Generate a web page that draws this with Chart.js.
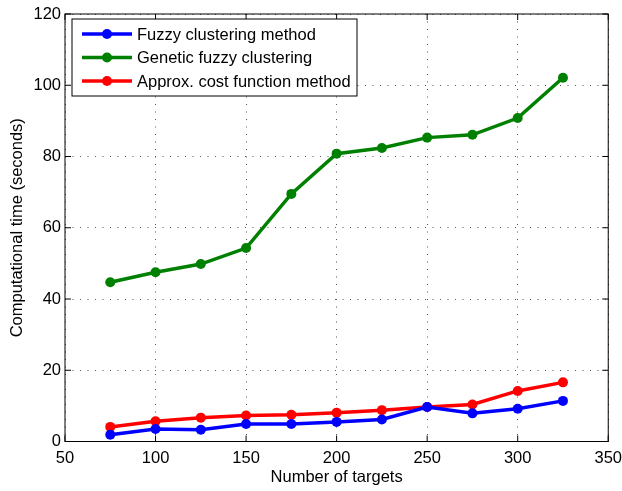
<!DOCTYPE html>
<html>
<head>
<meta charset="utf-8">
<script src="https://cdn.jsdelivr.net/npm/chart.js@4"></script>
<style>
  html, body { margin: 0; padding: 0; background: #fff; }
  #wrap { width: 622px; height: 491px; }
</style>
</head>
<body>
<div id="wrap"><canvas id="c" width="622" height="491"></canvas></div>
<script>
'use strict';

// Datos
const targets  = [75, 100, 125, 150, 175, 200, 225, 250, 275, 300, 325];
const fuzzy    = [1.9, 3.5, 3.3, 4.9, 4.9, 5.5, 6.2, 9.7, 7.9, 9.2, 11.4];
const genetic  = [44.7, 47.5, 49.8, 54.3, 69.5, 80.8, 82.4, 85.3, 86.1, 90.8, 102.1];
const approx   = [4.1, 5.7, 6.7, 7.3, 7.5, 8.1, 8.8, 9.7, 10.4, 14.2, 16.6];
const seriesNames = ['Fuzzy clustering method', 'Genetic fuzzy clustering', 'Approx. cost function method'];
const xTitle = 'Number of targets';
const yTitle = 'Computational time (seconds)';

const FONT = '"Liberation Sans", Arial, Helvetica, sans-serif';
const FS = 16.5;
Chart.defaults.font.family = FONT;
Chart.defaults.color = '#000';

function toXY(values) {
  return values.map((v, i) => ({ x: targets[i], y: v }));
}

function serie(label, values, color) {
  return {
    label,
    data: toXY(values),
    borderColor: color,
    backgroundColor: color,
    borderWidth: 3.5,
    pointRadius: 5,
    pointBorderWidth: 0,
    pointBackgroundColor: color,
    tension: 0,
  };
}

// ── Caja, marcas interiores y leyenda estilo MATLAB ──────────────────────────
const matlabBox = {
  id: 'matlabBox',
  afterDraw(chart) {
    const { ctx, chartArea: a, scales } = chart;
    const tl = 6;
    ctx.save();
    ctx.strokeStyle = '#000';
    ctx.lineWidth = 1;
    ctx.setLineDash([]);
    ctx.strokeRect(a.left, a.top, a.right - a.left, a.bottom - a.top);
    ctx.beginPath();
    scales.x.ticks.forEach(t => {
      const px = scales.x.getPixelForValue(t.value);
      ctx.moveTo(px, a.bottom); ctx.lineTo(px, a.bottom - tl);
      ctx.moveTo(px, a.top);    ctx.lineTo(px, a.top + tl);
    });
    scales.y.ticks.forEach(t => {
      const py = scales.y.getPixelForValue(t.value);
      ctx.moveTo(a.left, py);  ctx.lineTo(a.left + tl, py);
      ctx.moveTo(a.right, py); ctx.lineTo(a.right - tl, py);
    });
    ctx.stroke();

    // Leyenda
    const bx = 72, by = 19, bw = 285, bh = 77;
    ctx.fillStyle = '#fff';
    ctx.fillRect(bx, by, bw, bh);
    ctx.strokeRect(bx, by, bw, bh);
    ctx.font = FS + 'px ' + FONT;
    ctx.textAlign = 'left';
    ctx.textBaseline = 'middle';
    chart.data.datasets.forEach((ds, i) => {
      const y = 34 + i * 23.5;
      ctx.strokeStyle = ds.borderColor;
      ctx.lineWidth = 3.5;
      ctx.beginPath(); ctx.moveTo(82, y); ctx.lineTo(132, y); ctx.stroke();
      ctx.fillStyle = ds.borderColor;
      ctx.beginPath(); ctx.arc(107, y, 5, 0, Math.PI * 2); ctx.fill();
      ctx.fillStyle = '#000';
      ctx.fillText(ds.label, 137, y + 1);
    });
    ctx.restore();
  },
};

new Chart(document.getElementById('c'), {
  type: 'line',
  data: {
    datasets: [
      serie(seriesNames[0], fuzzy, '#0000ff'),
      serie(seriesNames[1], genetic, '#008000'),
      serie(seriesNames[2], approx, '#ff0000'),
    ],
  },
  plugins: [matlabBox],
  options: {
    responsive: false,
    animation: false,
    events: [],
    layout: { padding: { left: 0, right: 13, top: 14, bottom: 0 } },
    plugins: { legend: { display: false }, tooltip: { enabled: false } },
    scales: {
      x: {
        type: 'linear',
        min: 50, max: 350,
        ticks: { stepSize: 50, font: { size: FS }, color: '#000', padding: 0, maxRotation: 0 },
        grid: { color: '#555', lineWidth: 1, drawTicks: true, tickLength: 7, tickColor: 'transparent' },
        border: { display: false, dash: [1, 6.5] },
        title: { display: true, text: xTitle, font: { size: FS }, color: '#000', padding: { top: 0, bottom: 4 } },
        afterFit: s => { s.height = 49.5; },
      },
      y: {
        min: 0, max: 120,
        ticks: { stepSize: 20, font: { size: FS }, color: '#000', padding: 0 },
        grid: { color: '#555', lineWidth: 1, drawTicks: true, tickLength: 4, tickColor: 'transparent' },
        border: { display: false, dash: [1, 6.5] },
        title: { display: true, text: yTitle, font: { size: FS }, color: '#000', padding: { top: 8, bottom: 0 } },
        afterFit: s => { s.width = 65; },
      },
    },
  },
});
</script>
</body>
</html>
